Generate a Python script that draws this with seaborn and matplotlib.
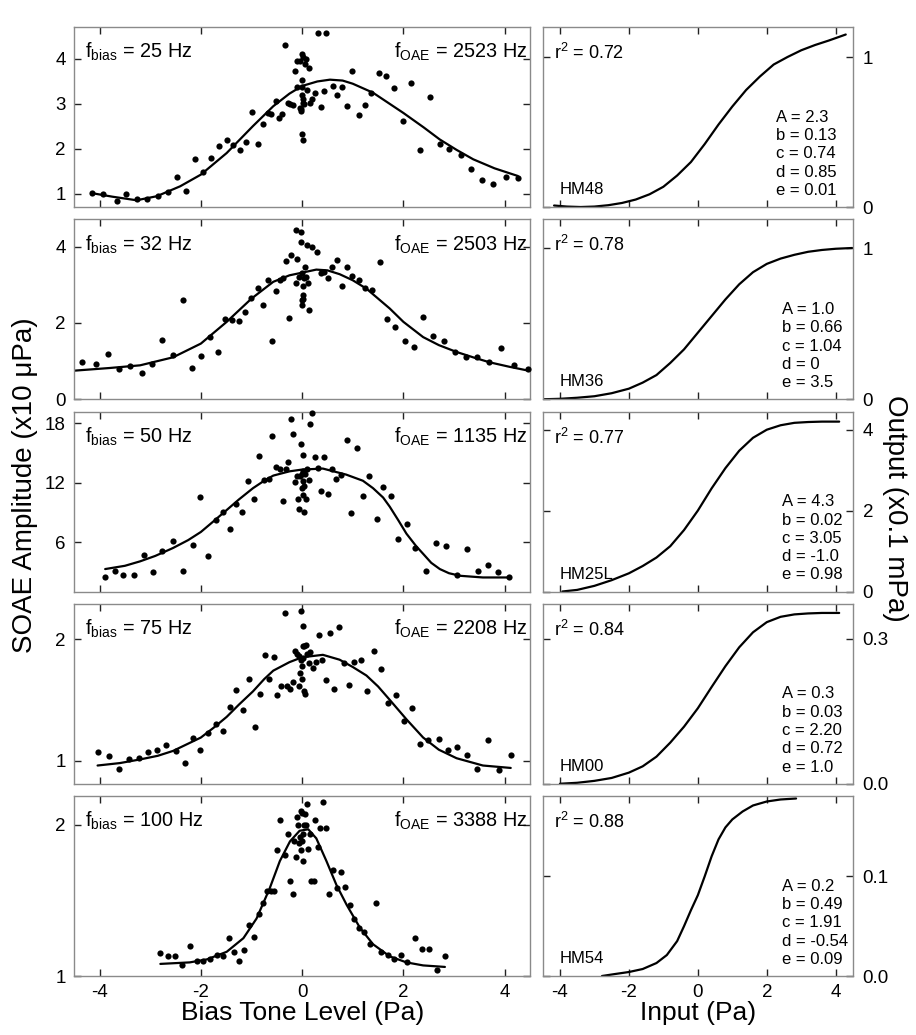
import numpy as np
import pandas as pd
import matplotlib
matplotlib.use("Agg")
import matplotlib.pyplot as plt
import matplotlib.ticker as mticker
import seaborn as sns

# Panel labels
f_bias = [25, 32, 50, 75, 100]
f_oae = [2523, 2503, 1135, 2208, 3388]
subjects = ["HM48", "HM36", "HM25L", "HM00", "HM54"]
r_squared = ["0.72", "0.78", "0.77", "0.84", "0.88"]
fit_params = [
    ["A = 2.3", "b = 0.13", "c = 0.74", "d = 0.85", "e = 0.01"],
    ["A = 1.0", "b = 0.66", "c = 1.04", "d = 0", "e = 3.5"],
    ["A = 4.3", "b = 0.02", "c = 3.05", "d = -1.0", "e = 0.98"],
    ["A = 0.3", "b = 0.03", "c = 2.20", "d = 0.72", "e = 1.0"],
    ["A = 0.2", "b = 0.49", "c = 1.91", "d = -0.54", "e = 0.09"],
]

# SOAE amplitude vs bias tone level (measured points)
soae25_x = [-4.16, -3.93, -3.66, -3.47, -3.26, -3.06, -2.84, -2.64, -2.47, -2.30, -2.12, -1.95, -1.79, -1.64,
            -1.49, -1.36, -1.23, -1.11, -0.99, -0.88, -0.78, -0.68, -0.61, -0.52, -0.45, -0.39, -0.33, -0.28,
            -0.23, -0.18, -0.14, -0.10, -0.11, -0.05, -0.05, -0.03, -0.02, -0.01, -0.01, -0.01, 0.01, -0.01,
            0.01, 0.02, 0.03, -0.01, 0.01, 0.05, 0.07, 0.10, 0.14, 0.16, 0.20, 0.26, 0.32, 0.38, 0.43, 0.48,
            0.60, 0.69, 0.78, 0.89, 0.99, 1.12, 1.24, 1.37, 1.52, 1.66, 1.82, 1.99, 2.16, 2.32, 2.53, 2.72,
            2.91, 3.13, 3.34, 3.56, 3.76, 4.02, 4.27]
soae25_y = [1.01, 0.99, 0.83, 1.00, 0.88, 0.88, 0.94, 1.04, 1.36, 1.05, 1.76, 1.48, 1.79, 2.05,
            2.18, 2.07, 1.96, 2.14, 2.81, 2.10, 2.55, 2.79, 2.76, 3.05, 2.67, 2.76, 4.30, 3.01,
            3.00, 2.96, 3.72, 3.94, 3.36, 3.94, 2.90, 2.84, 2.88, 3.53, 3.36, 2.33, 2.20, 3.20,
            3.10, 3.01, 2.98, 4.11, 4.04, 3.87, 3.99, 3.31, 3.79, 3.01, 3.09, 3.24, 4.56, 2.92, 3.27, 4.57,
            3.39, 3.19, 3.37, 2.94, 3.72, 2.75, 2.96, 3.24, 3.67, 3.61, 3.35, 2.61, 3.46, 1.96, 3.15, 2.11,
            1.99, 1.86, 1.55, 1.30, 1.21, 1.37, 1.34]

soae32_x = [-4.34, -4.07, -3.84, -3.62, -3.39, -3.17, -2.96, -2.76, -2.55, -2.35,
            -2.18, -2.00, -1.82, -1.67, -1.52, -1.38, -1.25, -1.12, -1.00, -0.88,
            -0.78, -0.68, -0.59, -0.51, -0.44, -0.37, -0.31, -0.26, -0.21, -0.13,
            -0.13, -0.10, -0.06, -0.03, -0.02, -0.01, -0.01, 0.00, 0.01, 0.02,
            0.03, 0.01, 0.05, 0.07, 0.09, 0.12, 0.14, 0.19, 0.30, 0.37,
            0.43, 0.51, 0.59, 0.68, 0.78, 0.89, 0.99, 1.13, 1.25, 1.38,
            1.53, 1.68, 1.84, 2.03, 2.21, 2.38, 2.59, 2.80, 3.01, 3.24,
            3.46, 3.70, 3.93, 4.19, 4.47]
soae32_y = [0.99, 0.92, 1.20, 0.79, 0.88, 0.70, 0.93, 1.55, 1.15, 2.61,
            0.81, 1.14, 1.62, 1.23, 2.10, 2.09, 2.05, 2.28, 2.66, 2.91,
            2.47, 3.14, 1.54, 2.84, 3.12, 3.17, 3.62, 2.13, 3.78, 4.44,
            3.06, 3.67, 3.21, 4.13, 4.39, 3.32, 2.60, 2.48, 2.73, 2.96,
            3.17, 2.64, 3.47, 3.21, 4.04, 3.04, 2.35, 3.98, 3.87, 3.30,
            3.34, 3.17, 3.47, 3.65, 2.96, 3.47, 3.23, 3.12, 2.92, 2.86,
            3.59, 2.11, 1.89, 1.54, 1.38, 2.16, 1.67, 1.52, 1.25, 1.12,
            1.10, 0.99, 1.35, 0.89, 0.80]

soae50_x = [-3.89, -3.70, -3.53, -3.33, -3.13, -2.94, -2.76, -2.55, -2.36, -2.16,
            -2.01, -1.85, -1.71, -1.57, -1.43, -1.30, -1.18, -1.06, -0.96, -0.86,
            -0.76, -0.66, -0.59, -0.52, -0.44, -0.38, -0.31, -0.27, -0.22, -0.18,
            -0.14, -0.11, -0.08, -0.06, -0.05, -0.03, -0.01, -0.01, 0.01, 0.01,
            0.01, 0.02, 0.03, 0.04, 0.06, 0.07, 0.09, 0.13, 0.16, 0.20,
            0.26, 0.31, 0.38, 0.43, 0.51, 0.59, 0.67, 0.77, 0.88, 0.97,
            1.09, 1.20, 1.33, 1.47, 1.60, 1.75, 1.89, 2.07, 2.22, 2.44,
            2.64, 2.85, 3.05, 3.26, 3.47, 3.68, 3.86, 4.09]
soae50_y = [2.49, 3.07, 2.62, 2.66, 4.70, 2.93, 5.08, 6.14, 3.10, 5.73,
            10.60, 4.63, 8.25, 9.03, 7.36, 9.89, 9.00, 12.17, 10.33, 14.66,
            12.27, 12.37, 16.70, 13.60, 13.43, 10.19, 13.43, 14.05, 18.48, 16.94,
            12.03, 12.68, 10.40, 9.31, 12.65, 15.89, 11.45, 12.92, 14.83, 12.14,
            10.77, 13.23, 11.69, 9.03, 12.92, 10.40, 13.40, 12.24, 17.90, 19.09,
            14.56, 13.53, 11.18, 14.56, 10.87, 13.40, 12.37, 12.75, 16.30, 8.97,
            15.55, 10.70, 12.72, 8.32, 11.56, 10.70, 6.31, 7.81, 5.35, 3.10,
            5.93, 5.62, 2.62, 5.28, 3.07, 3.68, 3.00, 2.42]

soae75_x = [-4.04, -3.82, -3.62, -3.41, -3.22, -3.04, -2.86, -2.68, -2.50, -2.32,
            -2.16, -2.01, -1.86, -1.70, -1.56, -1.42, -1.30, -1.16, -1.05, -0.93,
            -0.84, -0.74, -0.65, -0.56, -0.49, -0.41, -0.34, -0.29, -0.24, -0.19,
            -0.14, -0.10, -0.07, -0.06, -0.05, -0.03, -0.02, -0.01, -0.01, 0.01,
            0.01, 0.02, 0.03, 0.04, 0.05, 0.07, 0.09, 0.14, 0.16, 0.22,
            0.28, 0.34, 0.40, 0.47, 0.55, 0.63, 0.72, 0.82, 0.93, 1.03,
            1.16, 1.28, 1.41, 1.55, 1.70, 1.86, 2.01, 2.17, 2.32, 2.49,
            2.70, 2.88, 3.06, 3.26, 3.45, 3.67, 3.89, 4.12]
soae75_y = [1.07, 1.04, 0.93, 1.01, 1.02, 1.07, 1.09, 1.13, 1.08, 0.98,
            1.19, 1.09, 1.23, 1.30, 1.24, 1.44, 1.58, 1.42, 1.67, 1.28,
            1.55, 1.87, 1.67, 1.85, 1.54, 1.61, 2.21, 1.61, 1.59, 1.65,
            1.90, 1.88, 1.61, 1.86, 1.72, 1.83, 2.23, 1.78, 1.67, 1.84,
            2.11, 1.94, 1.57, 1.94, 1.55, 1.95, 1.88, 1.80, 1.89, 1.76,
            1.81, 2.03, 1.83, 1.66, 2.05, 1.59, 2.10, 1.80, 1.62, 1.81,
            1.83, 1.57, 1.90, 1.75, 1.47, 1.54, 1.33, 1.43, 1.14, 1.17,
            1.18, 1.09, 1.11, 1.05, 0.93, 1.17, 0.92, 1.05]

soae100_x = [-2.80, -2.65, -2.51, -2.37, -2.22, -2.07, -1.95, -1.82, -1.69, -1.57,
             -1.45, -1.34, -1.24, -1.14, -1.04, -0.95, -0.86, -0.77, -0.70, -0.62,
             -0.55, -0.49, -0.43, -0.34, -0.28, -0.23, -0.19, -0.16, -0.13, -0.11,
             -0.08, -0.06, -0.05, -0.03, -0.02, -0.01, 0.00, 0.01, 0.02, 0.03,
             0.05, 0.07, 0.09, 0.12, 0.15, 0.18, 0.23, 0.26, 0.31, 0.36,
             0.41, 0.47, 0.53, 0.61, 0.69, 0.76, 0.84, 0.94, 1.03, 1.13,
             1.23, 1.34, 1.45, 1.56, 1.69, 1.82, 1.95, 2.08, 2.22, 2.37,
             2.50, 2.67, 2.82]
soae100_y = [1.15, 1.13, 1.13, 1.07, 1.20, 1.10, 1.10, 1.11, 1.14, 1.13,
             1.25, 1.16, 1.10, 1.17, 1.34, 1.26, 1.41, 1.48, 1.56, 1.56,
             1.56, 1.83, 2.03, 1.80, 1.94, 1.63, 1.54, 1.89, 1.79, 2.05,
             2.00, 1.88, 1.92, 2.09, 1.83, 1.89, 2.08, 1.76, 1.94, 2.00,
             2.07, 2.00, 2.14, 1.84, 1.94, 1.63, 1.63, 2.03, 1.85, 1.98,
             2.15, 1.98, 1.54, 1.70, 1.58, 1.69, 1.59, 1.47, 1.38, 1.32,
             1.29, 1.21, 1.48, 1.16, 1.14, 1.11, 1.14, 1.09, 1.25, 1.18,
             1.18, 1.04, 1.13]

# Model fits
fit25_x = [-4.16, -3.75, -3.27, -2.87, -2.41, -2.0, -1.49, -0.97, -0.57, -0.25, 0.0, 0.3, 0.55, 0.8, 1.0,
           1.4, 2.0, 2.4, 2.72, 3.05, 3.38, 3.8, 4.26]
fit25_y = [1.01, 0.93, 0.85, 0.94, 1.16, 1.42, 1.9, 2.5, 2.94, 3.22, 3.39, 3.49, 3.53, 3.51, 3.44,
           3.24, 2.79, 2.47, 2.2, 1.97, 1.76, 1.56, 1.39]
fit32_x = [-4.5, -3.8, -3.2, -2.55, -2.0, -1.49, -1.0, -0.57, -0.25, 0.0, 0.28, 0.5, 0.74, 1.0, 1.27, 1.73,
           2.0, 2.39, 2.7, 3.05, 3.4, 3.7, 4.1, 4.47]
fit32_y = [0.75, 0.82, 0.89, 1.1, 1.46, 2.03, 2.64, 3.08, 3.25, 3.32, 3.40, 3.38, 3.28, 3.12, 2.90, 2.38,
           2.03, 1.63, 1.42, 1.24, 1.09, 0.97, 0.85, 0.75]
fit50_x = [-3.89, -3.5, -3.2, -2.9, -2.55, -2.25, -2.0, -1.75, -1.49, -1.25, -0.97, -0.75, -0.57, -0.25,
           0.0, 0.41, 0.87, 1.2, 1.4, 1.6, 1.73, 1.9, 2.06, 2.25, 2.39, 2.55, 2.72, 2.9, 3.12, 3.57, 4.09]
fit50_y = [3.27, 3.6, 4.05, 4.6, 5.4, 6.2, 7.02, 8.1, 9.24, 10.3, 11.45, 12.2, 12.72, 13.15,
           13.33, 13.43, 12.82, 12.2, 11.45, 10.5, 9.58, 8.2, 6.85, 5.6, 4.81, 3.9, 3.27, 2.85, 2.59, 2.42, 2.42]
fit75_x = [-4.04, -3.6, -3.2, -2.85, -2.55, -2.25, -2.0, -1.75, -1.49, -1.25, -0.97, -0.75, -0.57, -0.25,
           0.0, 0.41, 0.74, 1.0, 1.27, 1.5, 1.73, 2.06, 2.39, 2.7, 3.05, 3.57, 4.12]
fit75_y = [0.96, 0.98, 1.01, 1.04, 1.08, 1.14, 1.19, 1.27, 1.36, 1.46, 1.57, 1.67, 1.74, 1.81,
           1.85, 1.87, 1.83, 1.77, 1.70, 1.61, 1.50, 1.34, 1.19, 1.09, 1.02, 0.96, 0.94]
fit100_x = [-2.80, -2.22, -1.88, -1.49, -1.16, -0.90, -0.64, -0.44, -0.24, -0.05, 0.12, 0.28, 0.48, 0.68,
            0.88, 1.14, 1.40, 1.73, 2.06, 2.39, 2.82]
fit100_y = [1.08, 1.09, 1.11, 1.16, 1.25, 1.38, 1.58, 1.76, 1.89, 1.96, 1.97, 1.91, 1.76, 1.60,
            1.47, 1.32, 1.21, 1.13, 1.09, 1.07, 1.06]

# Input-output functions (right column)
io48_x = [-4.17, -3.8, -3.4, -3.0, -2.6, -2.2, -1.8, -1.4, -1.0, -0.6, -0.2, 0.2, 0.6, 1.0, 1.4, 1.8,
          2.2, 2.6, 3.0, 3.4, 3.8, 4.29]
io48_y = [0.01, 0.003, 0.0, 0.003, 0.012, 0.027, 0.05, 0.085, 0.135, 0.21, 0.30, 0.42, 0.55, 0.67, 0.78,
          0.87, 0.95, 1.0, 1.045, 1.08, 1.11, 1.15]
io36_x = [-4.48, -4.0, -3.5, -3.0, -2.5, -2.0, -1.6, -1.2, -0.8, -0.4, 0.0, 0.4, 0.8, 1.2, 1.6, 2.0,
          2.4, 2.8, 3.2, 3.6, 4.0, 4.48]
io36_y = [0.0, 0.003, 0.01, 0.02, 0.04, 0.07, 0.11, 0.16, 0.24, 0.33, 0.44, 0.55, 0.66, 0.76, 0.84, 0.895,
          0.93, 0.955, 0.975, 0.987, 0.995, 1.0]
io25_x = [-3.93, -3.5, -3.0, -2.5, -2.0, -1.6, -1.2, -0.8, -0.4, 0.0, 0.4, 0.8, 1.2, 1.6, 2.0, 2.4,
          2.8, 3.2, 3.6, 4.1]
io25_y = [0.0, 0.04, 0.14, 0.28, 0.45, 0.63, 0.84, 1.12, 1.52, 2.0, 2.55, 3.05, 3.48, 3.80, 4.0, 4.11,
          4.17, 4.19, 4.2, 4.2]
io00_x = [-4.0, -3.5, -3.0, -2.5, -2.0, -1.6, -1.2, -0.8, -0.4, 0.0, 0.4, 0.8, 1.2, 1.6, 2.0, 2.4,
          2.8, 3.2, 3.6, 4.1]
io00_y = [0.0, 0.002, 0.006, 0.012, 0.023, 0.036, 0.056, 0.085, 0.118, 0.156, 0.2, 0.243, 0.282, 0.313,
          0.334, 0.345, 0.35, 0.352, 0.353, 0.353]
io54_x = [-2.78, -2.4, -2.0, -1.6, -1.2, -0.9, -0.6, -0.4, -0.2, 0.0, 0.2, 0.4, 0.6, 0.8, 1.0, 1.3,
          1.6, 2.0, 2.4, 2.85]
io54_y = [0.0, 0.002, 0.004, 0.007, 0.013, 0.021, 0.035, 0.05, 0.066, 0.081, 0.1, 0.12, 0.137, 0.149,
          0.157, 0.165, 0.171, 0.175, 0.177, 0.178]

points = [(soae25_x, soae25_y), (soae32_x, soae32_y), (soae50_x, soae50_y),
          (soae75_x, soae75_y), (soae100_x, soae100_y)]
fits = [(fit25_x, fit25_y), (fit32_x, fit32_y), (fit50_x, fit50_y),
        (fit75_x, fit75_y), (fit100_x, fit100_y)]
io_curves = [(io48_x, io48_y), (io36_x, io36_y), (io25_x, io25_y),
             (io00_x, io00_y), (io54_x, io54_y)]

left_ylims = [(0.7, 4.7), (0, 4.72), (1, 19.2), (0.81, 2.29), (1, 2.19)]
left_yticks = [[1, 2, 3, 4], [0, 2, 4], [6, 12, 18], [1, 2], [1, 2]]
right_ylims = [(0, 1.2), (0, 1.19), (0, 4.45), (0, 0.372), (0, 0.1805)]
right_yticks = [[0, 1], [0, 1], [0, 2, 4], [0.0, 0.3], [0.0, 0.1]]
right_fmt = ["%g", "%g", "%g", "%.1f", "%.1f"]
param_x = [0.752, 0.77, 0.77, 0.77, 0.77]

sns.set_style("ticks")
plt.rcParams["font.family"] = ["Liberation Sans", "DejaVu Sans"]
plt.rcParams["mathtext.fontset"] = "custom"
plt.rcParams["mathtext.rm"] = "Liberation Sans"
plt.rcParams["mathtext.it"] = "Liberation Sans:italic"
plt.rcParams["axes.unicode_minus"] = False
plt.rcParams["text.color"] = "black"
plt.rcParams["axes.labelcolor"] = "black"
plt.rcParams["xtick.color"] = "black"
plt.rcParams["ytick.color"] = "black"

fig, axes = plt.subplots(5, 2, figsize=(9.16, 10.35), dpi=100,
                         gridspec_kw=dict(width_ratios=[455.7, 310.3], left=0.0811, right=0.9312,
                                          top=0.9739, bottom=0.0570, wspace=0.0332, hspace=0.068))

frame_col = "#8a8a8a"

for i in range(5):
    axl, axr = axes[i]
    px, py = points[i]
    fx, fy = fits[i]
    sns.scatterplot(x=px, y=py, ax=axl, color="black", s=20, linewidth=0, clip_on=False, zorder=3)
    sns.lineplot(x=fx, y=fy, ax=axl, color="black", lw=1.6, sort=False, estimator=None)
    axl.set_xlim(-4.5, 4.5)
    axl.set_ylim(*left_ylims[i])
    axl.set_yticks(left_yticks[i])
    axl.set_xticks([-4, -2, 0, 2, 4])
    axl.yaxis.set_major_formatter(mticker.FormatStrFormatter("%g"))
    axl.text(0.023, 0.828, r"f$_{\mathrm{bias}}$ = %d Hz" % f_bias[i], transform=axl.transAxes,
             fontsize=14.3, va="baseline", ha="left")
    axl.text(0.995, 0.828, r"f$_{\mathrm{OAE}}$ = %d Hz" % f_oae[i], transform=axl.transAxes,
             fontsize=14.3, va="baseline", ha="right")

    ix, iy = io_curves[i]
    sns.lineplot(x=ix, y=iy, ax=axr, color="black", lw=1.6, sort=False, estimator=None)
    axr.set_xlim(-4.5, 4.5)
    axr.set_ylim(*right_ylims[i])
    axr.set_yticks(right_yticks[i])
    axr.set_xticks([-4, -2, 0, 2, 4])
    axr.yaxis.set_major_formatter(mticker.FormatStrFormatter(right_fmt[i]))
    axr.text(0.037, 0.822, r"r$^2$ = " + r_squared[i], transform=axr.transAxes,
             fontsize=13, va="baseline", ha="left")
    axr.text(0.056, 0.072, subjects[i], transform=axr.transAxes,
             fontsize=12, va="baseline", ha="left")
    for j, line in enumerate(fit_params[i]):
        axr.text(param_x[i], 0.474 - j * 0.1018, line, transform=axr.transAxes,
                 fontsize=12, va="baseline", ha="left")

    for ax in (axl, axr):
        for sp in ax.spines.values():
            sp.set_visible(True)
            sp.set_color(frame_col)
            sp.set_linewidth(1.0)
        ax.tick_params(axis="both", which="major", direction="in", length=5, width=1,
                       color="#222222", labelsize=13.5, top=True, bottom=True, left=True, right=True)
        ax.tick_params(axis="x", pad=6)
        if i < 4:
            ax.tick_params(axis="x", labelbottom=False)
        ax.set_xlabel("")
        ax.set_ylabel("")
    axl.tick_params(axis="y", labelleft=True, labelright=False, pad=6)
    axr.tick_params(axis="y", labelleft=False, labelright=True, pad=7)

axes[4, 0].set_xlabel("Bias Tone Level (Pa)", fontsize=19, labelpad=0)
axes[4, 1].set_xlabel("Input (Pa)", fontsize=19, labelpad=0)
fig.text(0.027, 0.531, "SOAE Amplitude (x10 \u03bcPa)", rotation=90, fontsize=20,
         ha="center", va="center")
fig.text(0.977, 0.509, "Output (x0.1 mPa)", rotation=270, fontsize=20,
         ha="center", va="center")

fig.savefig("out.png", dpi=100)
